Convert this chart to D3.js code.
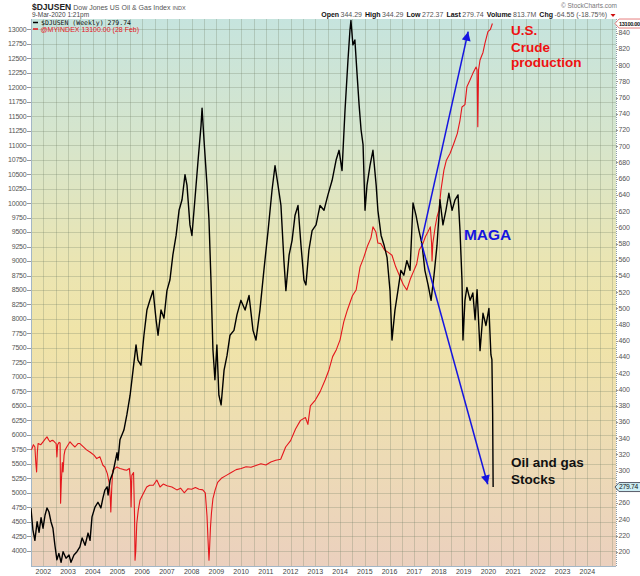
<!DOCTYPE html>
<html>
<head>
<meta charset="utf-8">
<script src="https://cdn.jsdelivr.net/npm/d3@7"></script>
<style>
  body { margin: 0; background: #fff; }
  svg { display: block; font-family: "Liberation Sans", Arial, sans-serif; }
</style>
</head>
<body>
<svg id="chart" width="640" height="576"></svg>
<script>
'use strict';

// $DJUSEN weekly close, [decimal year, index value] (right axis)
var djusenWeekly = [
  [2001.50, 254], [2001.58, 227], [2001.66, 214], [2001.75, 237], [2001.83, 224], [2001.91, 242],
  [2001.99, 229], [2002.07, 245], [2002.15, 254], [2002.23, 249], [2002.31, 237], [2002.39, 229],
  [2002.47, 208], [2002.55, 190], [2002.63, 198], [2002.72, 187], [2002.80, 200], [2002.92, 192],
  [2003.04, 196], [2003.12, 187], [2003.24, 196], [2003.36, 200], [2003.48, 206], [2003.57, 217],
  [2003.69, 208], [2003.81, 223], [2003.89, 214], [2003.97, 243], [2004.09, 255], [2004.21, 261],
  [2004.33, 254], [2004.41, 266], [2004.49, 276], [2004.58, 280], [2004.62, 270], [2004.70, 288],
  [2004.82, 298], [2004.98, 322], [2005.02, 313], [2005.10, 338], [2005.26, 350], [2005.38, 369],
  [2005.51, 393], [2005.63, 424], [2005.75, 455], [2005.83, 436], [2005.95, 430], [2006.07, 467],
  [2006.19, 498], [2006.31, 510], [2006.44, 522], [2006.56, 486], [2006.64, 467], [2006.76, 498],
  [2006.88, 488], [2007.00, 522], [2007.12, 535], [2007.24, 566], [2007.37, 590], [2007.49, 621],
  [2007.61, 634], [2007.73, 665], [2007.81, 652], [2007.93, 603], [2008.01, 590], [2008.13, 634],
  [2008.26, 683], [2008.38, 726], [2008.42, 747], [2008.50, 707], [2008.62, 652], [2008.70, 609],
  [2008.78, 535], [2008.86, 449], [2008.94, 412], [2009.02, 455], [2009.10, 393], [2009.19, 381],
  [2009.31, 424], [2009.43, 442], [2009.55, 467], [2009.71, 473], [2009.83, 492], [2009.99, 510],
  [2010.16, 498], [2010.32, 516], [2010.48, 473], [2010.60, 461], [2010.76, 498], [2010.92, 547],
  [2011.09, 596], [2011.25, 646], [2011.37, 676], [2011.49, 652], [2011.61, 627], [2011.73, 559],
  [2011.81, 522], [2011.94, 566], [2012.06, 584], [2012.18, 615], [2012.30, 627], [2012.42, 578],
  [2012.54, 535], [2012.62, 529], [2012.74, 572], [2012.87, 596], [2013.03, 603], [2013.19, 627],
  [2013.35, 621], [2013.51, 640], [2013.68, 658], [2013.84, 683], [2013.96, 695], [2014.08, 670],
  [2014.20, 744], [2014.32, 806], [2014.40, 843], [2014.44, 855], [2014.52, 825], [2014.60, 831],
  [2014.69, 788], [2014.77, 751], [2014.85, 720], [2014.93, 702], [2015.01, 621], [2015.09, 652],
  [2015.21, 676], [2015.33, 695], [2015.46, 652], [2015.53, 621], [2015.66, 590], [2015.78, 578],
  [2015.90, 563], [2016.02, 522], [2016.10, 461], [2016.22, 498], [2016.34, 522], [2016.46, 547],
  [2016.58, 541], [2016.70, 559], [2016.83, 547], [2016.95, 630], [2017.07, 615], [2017.19, 596],
  [2017.31, 580], [2017.43, 547], [2017.56, 529], [2017.68, 510], [2017.80, 541], [2017.92, 578],
  [2018.04, 634], [2018.16, 603], [2018.28, 621], [2018.40, 642], [2018.53, 621], [2018.65, 634],
  [2018.77, 640], [2018.85, 596], [2018.93, 535], [2018.97, 461], [2019.05, 510], [2019.13, 526],
  [2019.26, 510], [2019.37, 519], [2019.46, 486], [2019.54, 523], [2019.66, 448], [2019.78, 494],
  [2019.90, 479], [2020.02, 500], [2020.10, 443], [2020.14, 437], [2020.17, 371], [2020.19, 279.74]
];

// @MYINDEX: US crude production, thousand barrels/day (left axis)
var crudeWeekly = [
  [2001.50, 5740], [2001.54, 5760], [2001.60, 5830], [2001.66, 5790], [2001.70, 5500], [2001.73, 5360],
  [2001.76, 5700], [2001.79, 5850], [2001.90, 5830], [2001.99, 5880], [2002.08, 5930], [2002.15, 5965],
  [2002.22, 5910], [2002.27, 5880], [2002.33, 5900], [2002.39, 5905], [2002.47, 5870], [2002.52, 5850],
  [2002.55, 5620], [2002.58, 5830], [2002.64, 5870], [2002.68, 5860], [2002.70, 4820], [2002.73, 5200],
  [2002.77, 5520], [2002.80, 5360], [2002.84, 5650], [2002.88, 5740], [2002.96, 5800], [2003.08, 5880],
  [2003.18, 5830], [2003.28, 5790], [2003.40, 5850], [2003.48, 5850], [2003.60, 5800], [2003.75, 5740],
  [2003.90, 5700], [2004.05, 5650], [2004.16, 5590], [2004.29, 5620], [2004.41, 5475], [2004.49, 5445],
  [2004.59, 5330], [2004.67, 5160], [2004.71, 4900], [2004.73, 4670], [2004.77, 5100], [2004.81, 5390],
  [2004.90, 5420], [2004.97, 5445], [2005.10, 5420], [2005.25, 5400], [2005.37, 5390], [2005.48, 5420],
  [2005.53, 5200], [2005.55, 4755], [2005.58, 5300], [2005.65, 5350], [2005.69, 4600], [2005.71, 3835],
  [2005.74, 4000], [2005.78, 4470], [2005.84, 4700], [2005.91, 4870], [2006.04, 4985], [2006.18, 5100],
  [2006.30, 5130], [2006.45, 5130], [2006.59, 5220], [2006.72, 5100], [2006.85, 5150], [2007.00, 5120],
  [2007.20, 5100], [2007.40, 5050], [2007.55, 5080], [2007.70, 5000], [2007.85, 5070], [2008.00, 5060],
  [2008.15, 5090], [2008.30, 5060], [2008.45, 5050], [2008.55, 5000], [2008.62, 4600], [2008.66, 4200],
  [2008.70, 3835], [2008.72, 4000], [2008.76, 4400], [2008.80, 4650], [2008.86, 4900], [2008.95, 5050],
  [2009.05, 5180], [2009.20, 5250], [2009.40, 5300], [2009.60, 5350], [2009.80, 5400], [2010.00, 5420],
  [2010.20, 5450], [2010.40, 5440], [2010.60, 5470], [2010.80, 5500], [2011.00, 5480], [2011.20, 5530],
  [2011.40, 5560], [2011.60, 5580], [2011.80, 5790], [2012.00, 5900], [2012.20, 6100], [2012.40, 6250],
  [2012.60, 6300], [2012.70, 6180], [2012.80, 6500], [2013.00, 6600], [2013.20, 6750], [2013.40, 6950],
  [2013.55, 7120], [2013.70, 7350], [2013.85, 7470], [2014.00, 7640], [2014.15, 7950], [2014.30, 8160],
  [2014.50, 8400], [2014.65, 8500], [2014.81, 8900], [2014.95, 9050], [2015.10, 9250], [2015.25, 9400],
  [2015.33, 9590], [2015.45, 9500], [2015.53, 9310], [2015.65, 9300], [2015.80, 9190], [2015.95, 9150],
  [2016.10, 9100], [2016.25, 8900], [2016.40, 8750], [2016.55, 8600], [2016.70, 8500], [2016.85, 8700],
  [2016.95, 8800], [2017.10, 8950], [2017.20, 9190], [2017.35, 9300], [2017.45, 9420], [2017.55, 9500],
  [2017.65, 9590], [2017.70, 9310], [2017.72, 9000], [2017.75, 9300], [2017.85, 9600], [2017.92, 9760],
  [2018.00, 9880], [2018.08, 10225], [2018.20, 10570], [2018.30, 10740], [2018.45, 10860], [2018.60, 11030],
  [2018.74, 11200], [2018.85, 11430], [2018.93, 11660], [2019.05, 11700], [2019.13, 12010], [2019.25, 12120],
  [2019.37, 12240], [2019.50, 12350], [2019.54, 12300], [2019.57, 11320], [2019.60, 12300], [2019.66, 12470],
  [2019.78, 12600], [2019.86, 12760], [2019.98, 12960], [2020.08, 13000], [2020.16, 13100]
];

var yearTicks = d3.range(2002, 2025);
var leftTicks = d3.range(4000, 13001, 250);
var rightTicks = d3.range(200, 841, 20);

// hand drawn annotations, in chart units (year, left axis value)
var arrows = [
  { from: [2017.29, 9344], to: [2019.18, 12959] },
  { from: [2017.29, 9310], to: [2019.97, 5147] }
];
var notes = [
  { text: 'U.S.', at: [2020.91, 12902], color: '#ee1111' },
  { text: 'Crude', at: [2020.91, 12613], color: '#ee1111' },
  { text: 'production', at: [2020.91, 12354], color: '#ee1111' },
  { text: 'MAGA', at: [2019.01, 9370], color: '#1515e0', size: 15.5 },
  { text: 'Oil and gas', at: [2020.91, 5446], color: '#111' },
  { text: 'Stocks', at: [2020.91, 5159], color: '#111' }
];

var plot = { left: 31, right: 616, top: 19, bottom: 566 };

var x = d3.scaleLinear().domain([2001.503, 2025.158]).range([plot.left, plot.right]);
var yLeft = d3.scaleLinear().domain([3736, 13178]).range([plot.bottom, plot.top]);
var yRight = d3.scaleLinear().domain([182.4, 856.9]).range([plot.bottom, plot.top]);

var lastDj = djusenWeekly[djusenWeekly.length - 1][1];
var lastCrude = crudeWeekly[crudeWeekly.length - 1][1];

var svg = d3.select('#chart');
var defs = svg.append('defs');

var grad = defs.append('linearGradient')
  .attr('id', 'bg').attr('x1', 0).attr('y1', 0).attr('x2', 0).attr('y2', 1);
[[0, '#c6e4de'], [0.22, '#d6e5cc'], [0.45, '#ebe5b2'], [0.58, '#f0e4a8'], [0.8, '#eddbb5'], [1, '#ebd0be']]
  .forEach(function(s) { grad.append('stop').attr('offset', s[0]).attr('stop-color', s[1]); });

defs.append('marker')
  .attr('id', 'head').attr('viewBox', '0 0 10 10')
  .attr('refX', 10).attr('refY', 5)
  .attr('markerUnits', 'userSpaceOnUse')
  .attr('markerWidth', 10).attr('markerHeight', 9)
  .attr('orient', 'auto')
  .append('path').attr('d', 'M0,0L10,5L0,10Z').attr('fill', '#1515e0');

defs.append('clipPath').attr('id', 'clip')
  .append('rect')
  .attr('x', plot.left).attr('y', plot.top)
  .attr('width', plot.right - plot.left).attr('height', plot.bottom - plot.top);

// background
svg.append('rect')
  .attr('x', plot.left).attr('y', plot.top)
  .attr('width', plot.right - plot.left).attr('height', plot.bottom - plot.top)
  .attr('fill', 'url(#bg)');

// grid
var grid = svg.append('g').attr('stroke', 'rgba(110,125,100,0.28)').attr('stroke-width', 1)
  .attr('shape-rendering', 'crispEdges');
grid.selectAll('line.v')
  .data(d3.range(2002, 2025.01, 0.5))
  .enter().append('line')
  .attr('x1', function(d) { return Math.round(x(d)) + 0.5; })
  .attr('x2', function(d) { return Math.round(x(d)) + 0.5; })
  .attr('y1', plot.top).attr('y2', plot.bottom);
grid.selectAll('line.h')
  .data(leftTicks)
  .enter().append('line')
  .attr('y1', function(d) { return Math.round(yLeft(d)) + 0.5; })
  .attr('y2', function(d) { return Math.round(yLeft(d)) + 0.5; })
  .attr('x1', plot.left).attr('x2', plot.right);

// frame
var frame = svg.append('g').attr('shape-rendering', 'crispEdges');
frame.append('line').attr('x1', plot.left + 0.5).attr('x2', plot.left + 0.5)
  .attr('y1', plot.top).attr('y2', plot.bottom).attr('stroke', '#a3b6c6');
frame.append('line').attr('x1', plot.left).attr('x2', plot.right)
  .attr('y1', plot.bottom + 0.5).attr('y2', plot.bottom + 0.5).attr('stroke', '#a3b6c6');
frame.append('line').attr('x1', plot.right + 0.5).attr('x2', plot.right + 0.5)
  .attr('y1', plot.top).attr('y2', plot.bottom)
  .attr('stroke', '#8a9aa8').attr('stroke-dasharray', '1,1');

// left axis
var la = svg.append('g');
la.selectAll('line').data(leftTicks).enter().append('line')
  .attr('x1', plot.left - 4).attr('x2', plot.left)
  .attr('y1', function(d) { return Math.round(yLeft(d)) + 0.5; })
  .attr('y2', function(d) { return Math.round(yLeft(d)) + 0.5; })
  .attr('stroke', '#999');
la.selectAll('text').data(leftTicks).enter().append('text')
  .attr('x', plot.left - 4.5)
  .attr('y', function(d) { return yLeft(d) + 2.4; })
  .attr('text-anchor', 'end')
  .attr('font-size', 7).attr('fill', '#555').attr('letter-spacing', -0.2)
  .text(function(d) { return d; });

// right axis (labels under the value tag are hidden, like the original)
var rightShown = rightTicks.filter(function(d) {
  return Math.abs(yRight(d) - yRight(lastDj)) > 7;
});
var ra = svg.append('g');
ra.selectAll('line').data(rightTicks).enter().append('line')
  .attr('x1', plot.right).attr('x2', plot.right + 2)
  .attr('y1', function(d) { return Math.round(yRight(d)) + 0.5; })
  .attr('y2', function(d) { return Math.round(yRight(d)) + 0.5; })
  .attr('stroke', '#999');
ra.selectAll('text').data(rightShown).enter().append('text')
  .attr('x', plot.right + 2.5)
  .attr('y', function(d) { return yRight(d) + 2.4; })
  .attr('font-size', 7).attr('fill', '#555').attr('letter-spacing', -0.2)
  .text(function(d) { return d; });

// year axis
svg.append('g').selectAll('text').data(yearTicks).enter().append('text')
  .attr('x', function(d) { return x(d); })
  .attr('y', 573.5)
  .attr('text-anchor', 'middle')
  .attr('font-size', 7).attr('fill', '#444')
  .text(function(d) { return d; });

// series
var series = svg.append('g').attr('clip-path', 'url(#clip)');
series.append('path')
  .datum(crudeWeekly)
  .attr('fill', 'none').attr('stroke', '#e5161c').attr('stroke-width', 1.1)
  .attr('stroke-linejoin', 'round')
  .attr('d', d3.line().x(function(d) { return x(d[0]); }).y(function(d) { return yLeft(d[1]); }));
series.append('path')
  .datum(djusenWeekly)
  .attr('fill', 'none').attr('stroke', '#000').attr('stroke-width', 1.4)
  .attr('stroke-linejoin', 'round')
  .attr('d', d3.line().x(function(d) { return x(d[0]); }).y(function(d) { return yRight(d[1]); }));

// arrows
svg.append('g').selectAll('line').data(arrows).enter().append('line')
  .attr('x1', function(d) { return x(d.from[0]); })
  .attr('y1', function(d) { return yLeft(d.from[1]); })
  .attr('x2', function(d) { return x(d.to[0]); })
  .attr('y2', function(d) { return yLeft(d.to[1]); })
  .attr('stroke', '#1515e0').attr('stroke-width', 1.5)
  .attr('marker-end', 'url(#head)');

// notes
svg.append('g').selectAll('text').data(notes).enter().append('text')
  .attr('x', function(d) { return x(d.at[0]); })
  .attr('y', function(d) { return yLeft(d.at[1]); })
  .attr('font-size', function(d) { return d.size || 13.5; })
  .attr('font-weight', 'bold')
  .attr('fill', function(d) { return d.color; })
  .text(function(d) { return d.text; });

// legend
var leg = svg.append('g');
leg.append('line').attr('x1', 33).attr('x2', 38).attr('y1', 22.5).attr('y2', 22.5)
  .attr('stroke', '#000').attr('stroke-width', 1.5);
leg.append('text').attr('x', 41).attr('y', 25)
  .attr('font-family', '"DejaVu Sans Mono", monospace').attr('font-size', 6.5).attr('fill', '#111')
  .text('$DJUSEN (Weekly) ' + lastDj.toFixed(2));
leg.append('line').attr('x1', 33).attr('x2', 38).attr('y1', 29).attr('y2', 29)
  .attr('stroke', '#e5161c').attr('stroke-width', 1.5);
leg.append('text').attr('x', 40.5).attr('y', 31.5)
  .attr('font-size', 7).attr('fill', '#e5161c')
  .text('@MYINDEX ' + lastCrude.toFixed(2) + ' (28 Feb)');

// value tags on the right edge
function tag(yPos, label, fill, stroke, bold, size) {
  var g = svg.append('g');
  g.append('path')
    .attr('d', 'M' + (plot.right - 1) + ',' + yPos + 'l4,-4.5h30v9h-30z')
    .attr('fill', fill).attr('stroke', stroke).attr('stroke-width', 0.8);
  g.append('text').attr('x', plot.right + 3).attr('y', yPos + 2.3)
    .attr('font-size', size).attr('font-weight', bold ? 'bold' : 'normal').attr('fill', '#111')
    .attr('letter-spacing', -0.3)
    .text(label);
}
tag(yRight(lastDj), lastDj.toFixed(2), '#cdeef4', '#334', false, 6.8);
tag(yLeft(lastCrude), lastCrude.toFixed(2), '#fff', '#e06060', true, 5.6);

// header
var head = svg.append('g').attr('fill', '#222');
var t1 = head.append('text').attr('x', 32).attr('y', 9.5).attr('font-size', 7);
t1.append('tspan').attr('font-weight', 'bold').attr('font-size', 8.5).text('$DJUSEN');
t1.append('tspan').attr('dx', 2).attr('fill', '#555').text('Dow Jones US Oil & Gas Index');
t1.append('tspan').attr('dx', 2).attr('fill', '#555').attr('font-size', 5.5).text('INDX');
head.append('text').attr('x', 32).attr('y', 16.8).attr('font-size', 6.5).attr('fill', '#444')
  .text('9-Mar-2020 1:21pm');

var quote = [['Open', '344.29'], ['High', '344.29'], ['Low', '272.37'], ['Last', '279.74'],
  ['Volume', '813.7M'], ['Chg', '-64.55 (-18.75%)']];
var t2 = head.append('text').attr('x', 607).attr('y', 16.8).attr('font-size', 7)
  .attr('text-anchor', 'end');
quote.forEach(function(q, i) {
  t2.append('tspan').attr('font-weight', 'bold').attr('fill', '#111')
    .attr('dx', i ? 3 : 0).text(q[0]);
  t2.append('tspan').attr('fill', '#555').attr('dx', 1.5).text(q[1]);
});
head.append('path').attr('d', 'M610.5,14h5l-2.5,3z').attr('fill', '#d01010');
head.append('text').attr('x', 617).attr('y', 8).attr('font-size', 6.5).attr('fill', '#777')
  .attr('text-anchor', 'end').text('\u00a9 StockCharts.com');
</script>
</body>
</html>
